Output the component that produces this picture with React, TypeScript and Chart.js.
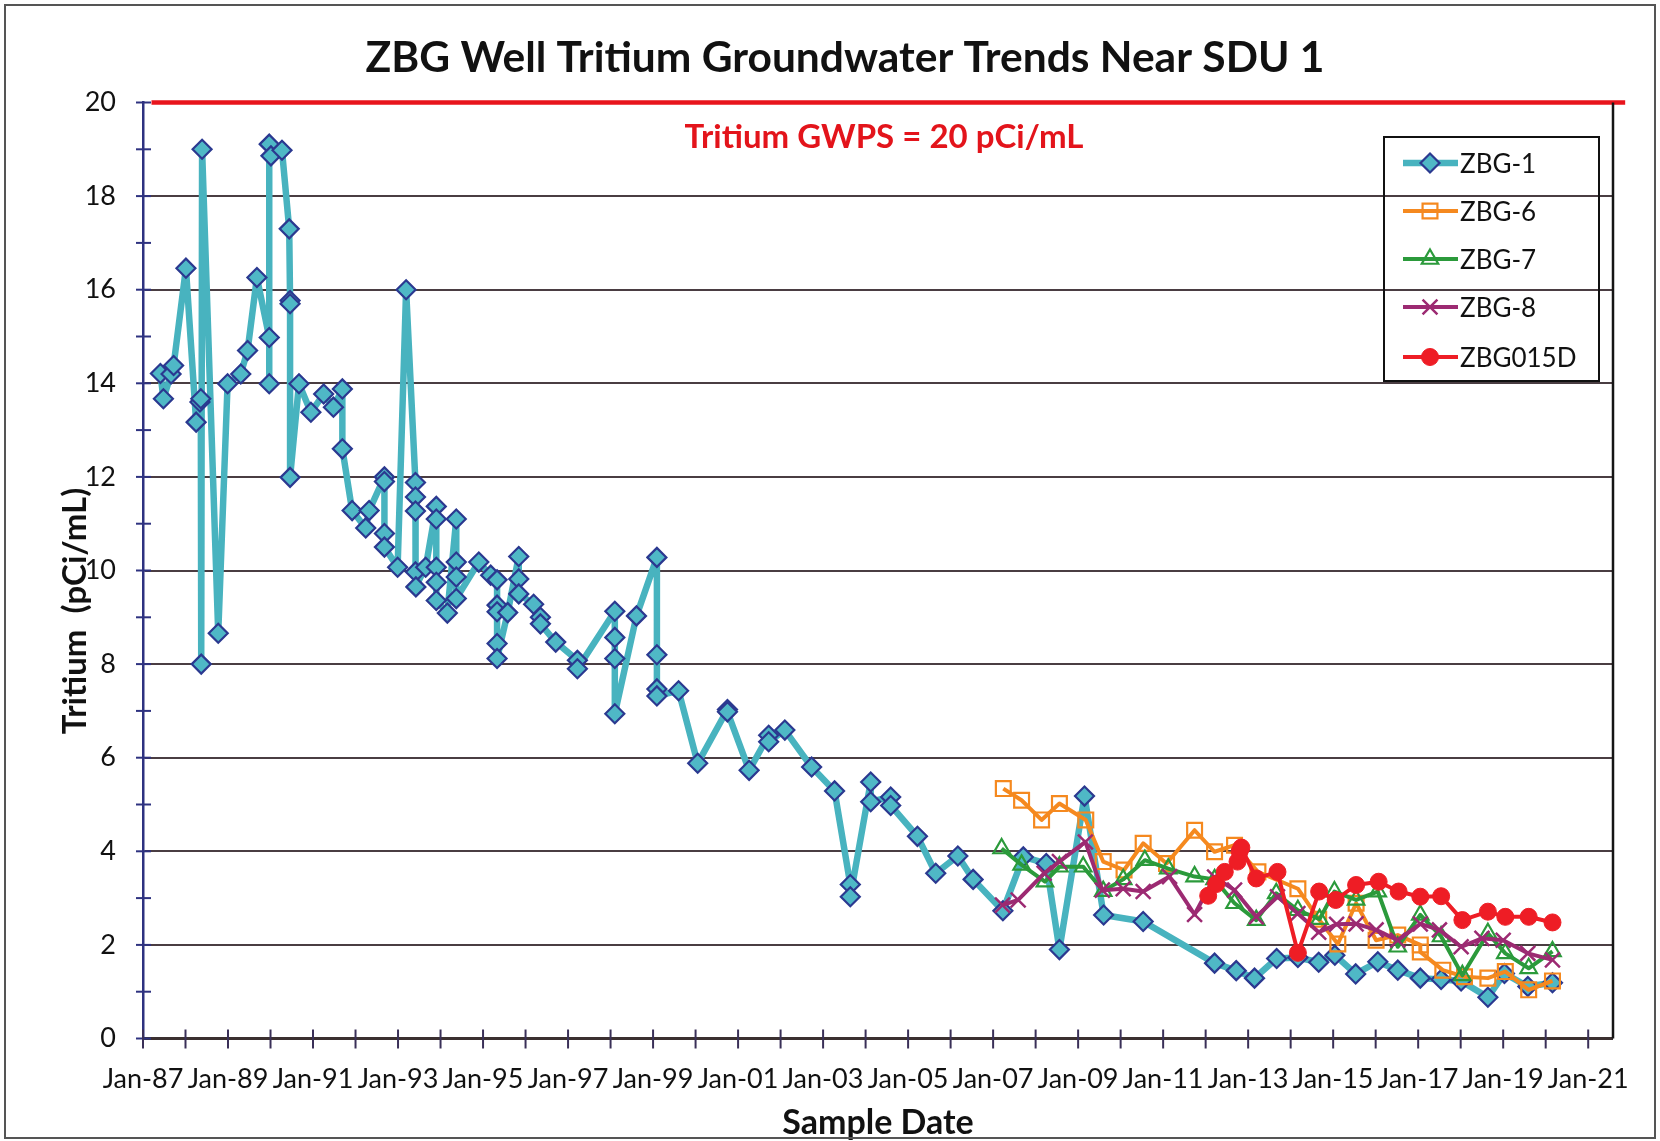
import React, { useEffect, useRef } from 'react';
import { Chart, registerables, PointElement } from 'chart.js';

Chart.register(...registerables);

// ---------------- DATA ----------------
const zbg1Dates = [
  1987.41, 1987.48, 1987.66, 1987.72, 1988.01, 1988.25, 1988.34, 1988.36, 1988.37, 1988.39,
  1988.77, 1988.99, 1989.30, 1989.46, 1989.68, 1989.97, 1989.97, 1989.97, 1990.01, 1990.27,
  1990.44, 1990.46, 1990.46, 1990.46, 1990.67, 1990.95, 1991.25, 1991.48, 1991.69, 1991.69,
  1991.92, 1992.24, 1992.32, 1992.68, 1992.68, 1992.68, 1992.68, 1992.99, 1993.19, 1993.41,
  1993.41, 1993.41, 1993.41, 1993.42, 1993.65, 1993.90, 1993.90, 1993.90, 1993.90, 1993.90,
  1994.16, 1994.37, 1994.37, 1994.37, 1994.37, 1994.90, 1995.18, 1995.33, 1995.33, 1995.33,
  1995.33, 1995.33, 1995.58, 1995.84, 1995.84, 1995.84, 1996.19, 1996.35, 1996.35, 1996.71,
  1997.22, 1997.22, 1998.10, 1998.10, 1998.10, 1998.10, 1998.61, 1999.09, 1999.09, 1999.09,
  1999.09, 1999.60, 2000.05, 2000.75, 2000.75, 2001.26, 2001.72, 2001.72, 2002.10, 2002.73,
  2003.27, 2003.64, 2003.64, 2004.12, 2004.12, 2004.59, 2004.59, 2005.22, 2005.65, 2006.17,
  2006.53, 2007.23, 2007.71, 2008.25, 2008.56, 2009.15, 2009.60, 2010.53, 2012.21, 2012.72,
  2013.15, 2013.67, 2014.17, 2014.66, 2015.04, 2015.53, 2016.05, 2016.52, 2017.05, 2017.54,
  2018.01, 2018.64, 2019.03, 2019.58, 2020.16,
];
const zbg1Values = [
  14.21, 13.67, 14.2, 14.38, 16.46, 13.17, 13.6, 13.67, 8.0, 19.0,
  8.66, 13.99, 14.2, 14.7, 16.26, 14.98, 13.99, 19.11, 18.86, 18.98,
  17.3, 15.77, 15.7, 11.99, 13.99, 13.38, 13.77, 13.49, 13.88, 12.6,
  11.28, 10.91, 11.28, 12.0, 11.9, 10.79, 10.5, 10.07, 16.0, 11.88,
  11.57, 11.27, 9.97, 9.65, 10.07, 11.37, 11.1, 10.07, 9.75, 9.36,
  9.09, 11.1, 10.18, 9.86, 9.4, 10.18, 9.9, 9.8, 9.26, 9.12,
  8.44, 8.12, 9.1, 10.3, 9.82, 9.5, 9.28, 9.0, 8.86, 8.47,
  8.08, 7.9, 9.13, 8.57, 8.12, 6.94, 9.03, 10.28, 8.2, 7.47,
  7.32, 7.43, 5.88, 7.03, 6.98, 5.73, 6.48, 6.34, 6.59, 5.8,
  5.29, 3.29, 3.03, 5.48, 5.06, 5.16, 4.98, 4.32, 3.53, 3.9,
  3.4, 2.73, 3.88, 3.74, 1.9, 5.18, 2.64, 2.5, 1.61, 1.45,
  1.29, 1.71, 1.73, 1.63, 1.78, 1.38, 1.64, 1.46, 1.29, 1.26,
  1.23, 0.88, 1.39, 1.11, 1.19,
];

const zbg6Dates = [
  2007.24, 2007.67, 2008.14, 2008.56, 2009.18, 2009.59, 2010.08, 2010.53, 2011.08, 2011.74,
  2012.21, 2012.68, 2013.23, 2014.17, 2014.66, 2015.11, 2015.54, 2016.01, 2016.52, 2017.05,
  2017.05, 2017.58, 2018.09, 2018.64, 2019.05, 2019.60, 2020.16,
];
const zbg6Values = [
  5.34, 5.09, 4.67, 5.02, 4.67, 3.78, 3.6, 4.17, 3.74, 4.45,
  3.99, 4.13, 3.56, 3.2, 2.55, 2.02, 2.89, 2.1, 2.21, 2.0,
  1.85, 1.46, 1.32, 1.29, 1.43, 1.04, 1.23,
];

const zbg7Dates = [
  2007.20, 2007.67, 2008.22, 2008.56, 2009.12, 2009.59, 2010.06, 2010.57, 2011.12, 2011.74,
  2012.21, 2012.68, 2013.19, 2013.66, 2014.17, 2014.68, 2015.03, 2015.54, 2016.05, 2016.52,
  2017.05, 2017.54, 2018.04, 2018.64, 2019.05, 2019.60, 2020.16,
];
const zbg7Values = [
  4.06, 3.71, 3.35, 3.67, 3.67, 3.15, 3.4, 3.81, 3.63, 3.46,
  3.4, 2.89, 2.53, 3.1, 2.74, 2.55, 3.14, 2.96, 3.14, 1.96,
  2.64, 2.18, 1.35, 2.25, 1.82, 1.5, 1.86,
];

const zbg8Dates = [
  2007.22, 2007.59, 2008.20, 2008.56, 2009.17, 2009.57, 2010.06, 2010.53, 2011.15, 2011.74,
  2012.21, 2012.68, 2013.19, 2013.69, 2014.17, 2014.66, 2015.08, 2015.54, 2016.01, 2016.52,
  2017.05, 2017.50, 2018.01, 2018.50, 2019.00, 2019.58, 2020.16,
];
const zbg8Values = [
  2.85, 2.96, 3.53, 3.78, 4.2, 3.17, 3.2, 3.14, 3.46, 2.65,
  3.45, 3.17, 2.6, 3.03, 2.67, 2.27, 2.44, 2.45, 2.32, 2.1,
  2.45, 2.32, 1.96, 2.14, 2.1, 1.82, 1.68,
];

const zbg015dDates = [
  2012.06, 2012.25, 2012.45, 2012.75, 2012.80, 2012.84, 2013.19, 2013.69, 2014.17, 2014.67,
  2015.06, 2015.54, 2016.07, 2016.54, 2017.05, 2017.54, 2018.04, 2018.64, 2019.05, 2019.60,
  2020.16,
];
const zbg015dValues = [
  3.05, 3.3, 3.56, 3.78, 4.0, 4.08, 3.42, 3.56, 1.83, 3.14,
  2.96, 3.28, 3.35, 3.14, 3.03, 3.04, 2.53, 2.71, 2.6, 2.6,
  2.48,
];

const gwpsLimit = 20;
const gwpsSpan = [1987.2, 2021.87];

const seriesNames = ['ZBG-1', 'ZBG-6', 'ZBG-7', 'ZBG-8', 'ZBG015D'];
const xTickYears = [1987, 1989, 1991, 1993, 1995, 1997, 1999, 2001, 2003, 2005, 2007, 2009, 2011, 2013, 2015, 2017, 2019, 2021];
const xTickLabels = ['Jan-87', 'Jan-89', 'Jan-91', 'Jan-93', 'Jan-95', 'Jan-97', 'Jan-99', 'Jan-01', 'Jan-03', 'Jan-05', 'Jan-07', 'Jan-09', 'Jan-11', 'Jan-13', 'Jan-15', 'Jan-17', 'Jan-19', 'Jan-21'];
const yTickValues = [0, 2, 4, 6, 8, 10, 12, 14, 16, 18, 20];

const titleText = 'ZBG Well Tritium Groundwater Trends Near SDU 1';
const limitText = 'Tritium GWPS = 20 pCi/mL';
const yTitleText = 'Tritium  (pCi/mL)';
const xTitleText = 'Sample Date';

// ---------------- STYLE ----------------
const FONT = 'Lato, "Open Sans", "DejaVu Sans", sans-serif';
const GRID = '#4a3d42';
const NAVY = '#2e3280';

const toPoints = (d: number[], v: number[]) => d.map((x, i) => ({ x, y: v[i] }));

const minorYears: number[] = [];
for (let y = 1987; y <= 2021; y++) minorYears.push(y);
const minorY: number[] = [];
for (let v = 0; v <= 20; v++) minorY.push(v);

const decorPlugin = {
  id: 'decor',
  afterDraw(chart: any) {
    const ctx: CanvasRenderingContext2D = chart.ctx;
    const area = chart.chartArea;
    const xs = chart.scales.x;
    const ys = chart.scales.y;
    ctx.save();

    // plot right border
    ctx.strokeStyle = '#151515';
    ctx.lineWidth = 2.5;
    ctx.beginPath();
    ctx.moveTo(area.right + 1, area.top);
    ctx.lineTo(area.right + 1, area.bottom);
    ctx.stroke();

    // crossing tick marks, y
    ctx.strokeStyle = NAVY;
    ctx.lineWidth = 2;
    minorY.forEach((v) => {
      const py = ys.getPixelForValue(v);
      ctx.beginPath();
      ctx.moveTo(area.left - 7, py);
      ctx.lineTo(area.left + 8, py);
      ctx.stroke();
    });
    // crossing tick marks, x
    ctx.strokeStyle = '#3a3058';
    minorYears.forEach((yr) => {
      const px = xs.getPixelForValue(yr);
      ctx.beginPath();
      ctx.moveTo(px, area.bottom - 9);
      ctx.lineTo(px, area.bottom + 10);
      ctx.stroke();
    });

    // title
    ctx.fillStyle = '#111';
    ctx.textAlign = 'center';
    ctx.textBaseline = 'alphabetic';
    ctx.font = `bold 42.5px ${FONT}`;
    ctx.fillText(titleText, 845, 72);

    // GWPS label
    ctx.fillStyle = '#e3141b';
    ctx.font = `bold 33px ${FONT}`;
    ctx.fillText(limitText, 884, 148);

    // x title
    ctx.fillStyle = '#111';
    ctx.font = `bold 34px ${FONT}`;
    ctx.fillText(xTitleText, 878, 1134);

    // y title
    ctx.save();
    ctx.translate(75, 611);
    ctx.rotate(-Math.PI / 2);
    ctx.textBaseline = 'middle';
    ctx.font = `bold 33px ${FONT}`;
    ctx.fillText(yTitleText, 0, 0);
    ctx.restore();

    // legend
    const bx = 1384, by = 137, bw = 215, bh = 244;
    ctx.strokeStyle = '#111';
    ctx.lineWidth = 2;
    ctx.strokeRect(bx, by, bw, bh);
    const rows = [163, 211, 259, 307, 357];
    chart.data.datasets.forEach((ds: any, i: number) => {
      if (i >= seriesNames.length) return;
      const ry = rows[i];
      ctx.strokeStyle = ds.borderColor;
      ctx.lineWidth = ds.borderWidth;
      ctx.beginPath();
      ctx.moveTo(1403, ry);
      ctx.lineTo(1458, ry);
      ctx.stroke();
      const pt: any = new PointElement({});
      pt.x = 1430;
      pt.y = ry;
      pt.options = {
        pointStyle: ds.pointStyle,
        radius: ds.pointRadius,
        borderWidth: ds.pointBorderWidth,
        borderColor: ds.pointBorderColor,
        backgroundColor: ds.pointBackgroundColor,
        rotation: 0,
      };
      pt.draw(ctx);
      ctx.fillStyle = '#111';
      ctx.font = `26px ${FONT}`;
      ctx.textAlign = 'left';
      ctx.textBaseline = 'middle';
      ctx.fillText(seriesNames[i], 1460, ry + 1.5);
    });

    // outer frame
    ctx.strokeStyle = '#555';
    ctx.lineWidth = 2;
    ctx.strokeRect(5, 5, 1650, 1133);
    ctx.restore();
  },
};

export default function App() {
  const ref = useRef<HTMLCanvasElement | null>(null);
  useEffect(() => {
    document.body.style.margin = '0';
    const canvas = ref.current;
    if (!canvas) return;
    const chart = new Chart(canvas, {
      type: 'line',
      data: {
        datasets: [
          {
            label: seriesNames[0],
            data: toPoints(zbg1Dates, zbg1Values),
            borderColor: '#48b3bf',
            borderWidth: 6.5,
            borderJoinStyle: 'round',
            borderCapStyle: 'round',
            pointStyle: 'rectRot',
            pointRadius: 9.5,
            pointBackgroundColor: '#4fb8c6',
            pointBorderColor: '#2b3990',
            pointBorderWidth: 2.2,
            tension: 0,
            order: 5,
          },
          {
            label: seriesNames[1],
            data: toPoints(zbg6Dates, zbg6Values),
            borderColor: '#f5891f',
            borderWidth: 4,
            borderJoinStyle: 'round',
            pointStyle: 'rect',
            pointRadius: 10.5,
            pointBackgroundColor: 'rgba(255,255,255,0)',
            pointBorderColor: '#f5891f',
            pointBorderWidth: 2.2,
            tension: 0,
            order: 4,
          },
          {
            label: seriesNames[2],
            data: toPoints(zbg7Dates, zbg7Values),
            borderColor: '#2b9a3b',
            borderWidth: 4,
            borderJoinStyle: 'round',
            pointStyle: 'triangle',
            pointRadius: 9.5,
            pointBackgroundColor: 'rgba(255,255,255,0)',
            pointBorderColor: '#2b9a3b',
            pointBorderWidth: 2.2,
            tension: 0,
            order: 3,
          },
          {
            label: seriesNames[3],
            data: toPoints(zbg8Dates, zbg8Values),
            borderColor: '#9c2a72',
            borderWidth: 4,
            borderJoinStyle: 'round',
            pointStyle: 'crossRot',
            pointRadius: 10.5,
            pointBackgroundColor: '#9c2a72',
            pointBorderColor: '#9c2a72',
            pointBorderWidth: 2.5,
            tension: 0,
            order: 2,
          },
          {
            label: seriesNames[4],
            data: toPoints(zbg015dDates, zbg015dValues),
            borderColor: '#ee1d25',
            borderWidth: 4,
            borderJoinStyle: 'round',
            pointStyle: 'circle',
            pointRadius: 8.5,
            pointBackgroundColor: '#ee1d25',
            pointBorderColor: '#ee1d25',
            pointBorderWidth: 1,
            tension: 0,
            order: 1,
          },
          {
            label: 'GWPS',
            data: gwpsSpan.map((x) => ({ x, y: gwpsLimit })),
            borderColor: '#e8141c',
            borderWidth: 4.5,
            pointRadius: 0,
            tension: 0,
            order: 0,
            clip: false as any,
          },
        ],
      },
      options: {
        animation: false,
        responsive: false,
        devicePixelRatio: 1,
        events: [],
        layout: { padding: { top: 102.5, right: 48, bottom: 0, left: 0 } },
        plugins: {
          legend: { display: false },
          title: { display: false },
          tooltip: { enabled: false },
        },
        scales: {
          x: {
            type: 'linear',
            position: 'bottom',
            min: 1987,
            max: 2021.56,
            afterBuildTicks: (scale: any) => {
              scale.ticks = minorYears.map((v) => ({ value: v }));
            },
            afterFit: (scale: any) => {
              scale.height = 102.5;
            },
            ticks: {
              autoSkip: false,
              maxRotation: 0,
              minRotation: 0,
              padding: 25,
              color: '#111',
              font: { family: FONT, size: 27 },
              callback: (v: any) => {
                const idx = xTickYears.indexOf(Number(v));
                return idx >= 0 ? xTickLabels[idx] : '';
              },
            },
            grid: { display: true, color: 'rgba(0,0,0,0)', drawTicks: false },
            border: { display: true, color: '#3b3030', width: 3 },
          },
          y: {
            type: 'linear',
            min: 0,
            max: 20,
            afterBuildTicks: (scale: any) => {
              scale.ticks = minorY.map((v) => ({ value: v }));
            },
            afterFit: (scale: any) => {
              scale.width = 143;
            },
            ticks: {
              padding: 27,
              color: '#111',
              font: { family: FONT, size: 27 },
              callback: (v: any) => (yTickValues.includes(Number(v)) ? String(v) : ''),
            },
            grid: {
              drawTicks: false,
              lineWidth: 2,
              color: (c: any) => {
                const v = c.tick ? c.tick.value : -1;
                return v > 0 && v < 20 && v % 2 === 0 ? GRID : 'rgba(0,0,0,0)';
              },
            },
            border: { display: true, color: NAVY, width: 2.5 },
          },
        },
      },
      plugins: [decorPlugin],
    });
    return () => chart.destroy();
  }, []);

  return (
    <div style={{ width: 1660, height: 1141, background: '#fff' }}>
      <canvas ref={ref} width={1660} height={1141} style={{ display: 'block' }} />
    </div>
  );
}
